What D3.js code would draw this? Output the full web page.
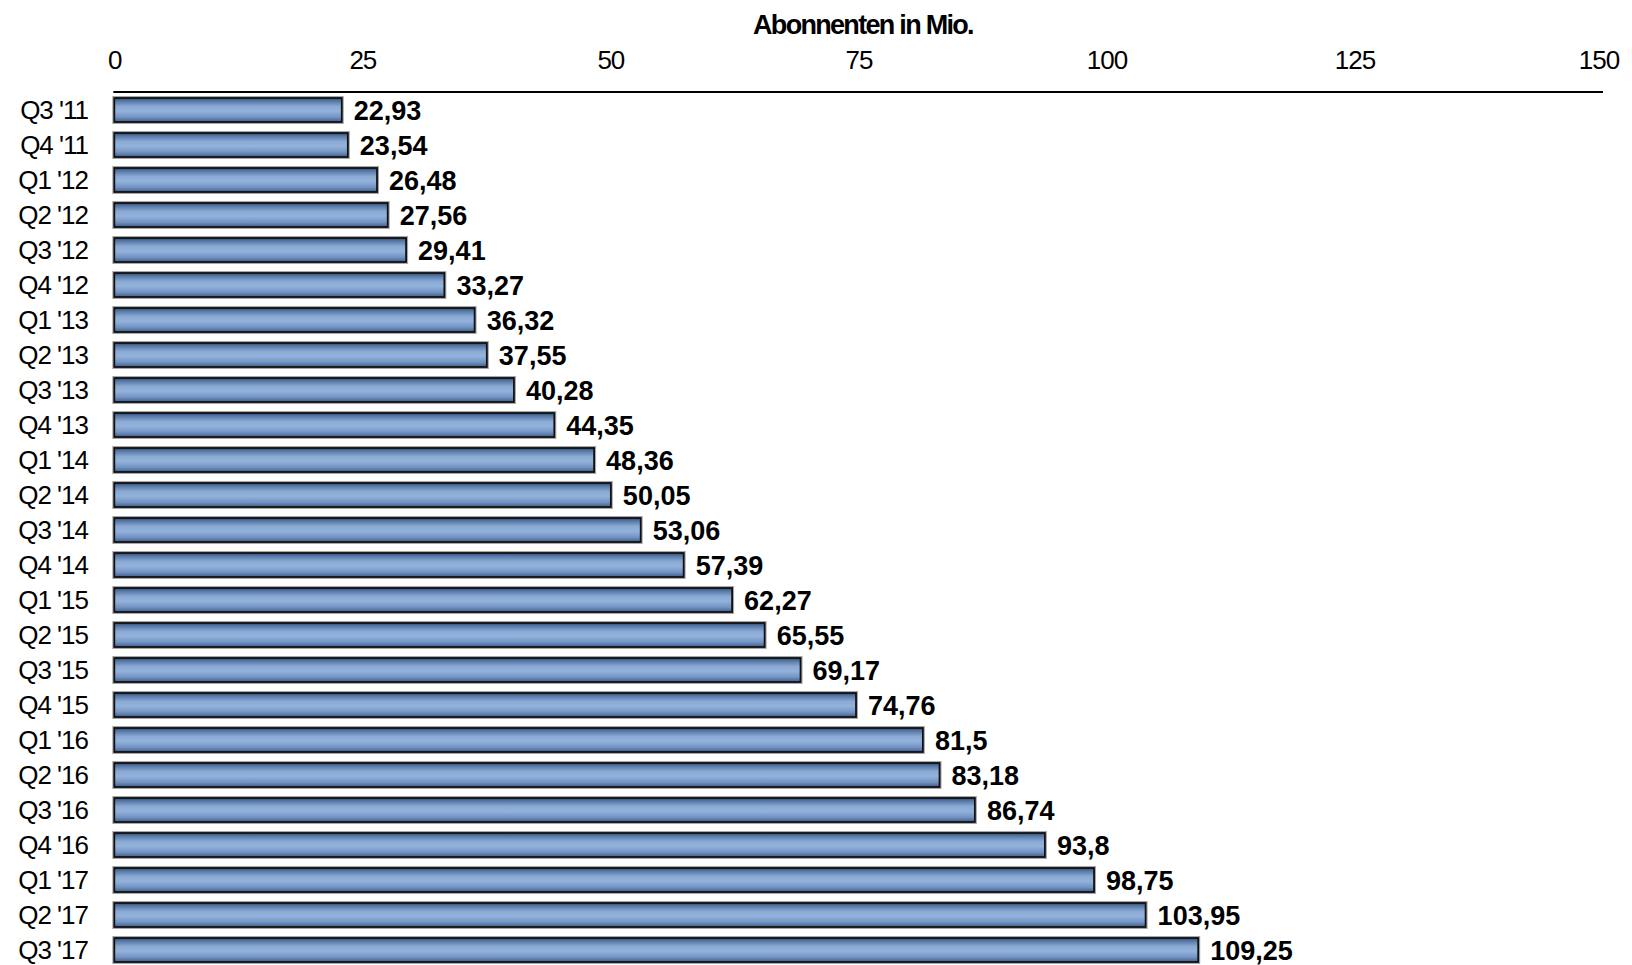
<!DOCTYPE html>
<html>
<head>
<meta charset="utf-8">
<script src="https://cdn.jsdelivr.net/npm/d3@7"></script>
<style>
  html, body { margin: 0; padding: 0; background: #fff; }
  svg { display: block; }
  text { font-family: "Liberation Sans", Arial, sans-serif; fill: #000; }
</style>
</head>
<body>
<svg id="chart" width="1632" height="965"></svg>
<script>
// Quarterly subscribers (millions)
const categories = ["Q3 '11", "Q4 '11", "Q1 '12", "Q2 '12", "Q3 '12", "Q4 '12",
  "Q1 '13", "Q2 '13", "Q3 '13", "Q4 '13", "Q1 '14", "Q2 '14", "Q3 '14", "Q4 '14",
  "Q1 '15", "Q2 '15", "Q3 '15", "Q4 '15", "Q1 '16", "Q2 '16", "Q3 '16", "Q4 '16",
  "Q1 '17", "Q2 '17", "Q3 '17"];
const subscribers = [22.93, 23.54, 26.48, 27.56, 29.41, 33.27, 36.32, 37.55, 40.28,
  44.35, 48.36, 50.05, 53.06, 57.39, 62.27, 65.55, 69.17, 74.76, 81.5, 83.18, 86.74,
  93.8, 98.75, 103.95, 109.25];
const tickValues = [0, 25, 50, 75, 100, 125, 150];
const axisTitle = "Abonnenten in Mio.";

const svg = d3.select("#chart");

const x = d3.scaleLinear().domain([0, 150]).range([114.3, 1602.5]);
const y = d3.scaleBand()
  .domain(categories)
  .range([92.5, 967.5])
  .paddingInner(0.314)
  .paddingOuter(0.157);

// Bar gradient: dark edges, light centre
const defs = svg.append("defs");
const grad = defs.append("linearGradient")
  .attr("id", "barGrad").attr("x1", 0).attr("y1", 0).attr("x2", 0).attr("y2", 1);
[[0, "#2c4a74"], [0.12, "#5677a6"], [0.35, "#8aa9d3"], [0.55, "#93b2dc"],
 [0.8, "#7393c2"], [1, "#3d5d8c"]].forEach(([o, c]) =>
  grad.append("stop").attr("offset", o).attr("stop-color", c));

// Title
svg.append("text")
  .attr("x", 863).attr("y", 34)
  .attr("text-anchor", "middle")
  .style("font-size", "27px").style("font-weight", "bold")
  .style("letter-spacing", "-1.7px")
  .text(axisTitle);

// Top axis
const axisG = svg.append("g").attr("transform", `translate(0, 92)`);
axisG.call(d3.axisTop(x).tickValues(tickValues).tickSize(0).tickPadding(0).tickFormat(d3.format("d")));
axisG.select(".domain").remove();
axisG.append("line")
  .attr("x1", x(0) - 1).attr("x2", 1603)
  .attr("y1", 0).attr("y2", 0)
  .attr("stroke", "#000").attr("stroke-width", 2);
axisG.selectAll(".tick text")
  .attr("y", -23.5).attr("dy", 0)
  .attr("fill", "#000")
  .style("font-family", "'Liberation Sans', Arial, sans-serif")
  .style("font-size", "26px")
  .style("letter-spacing", "-1px");
// keep the last label inside the line end
axisG.selectAll(".tick").filter(d => d === 150).select("text").attr("x", -4);

// Category labels
svg.append("g").selectAll("text")
  .data(categories)
  .join("text")
  .attr("x", 88)
  .attr("y", d => y(d) + y.bandwidth() / 2)
  .attr("dy", "0.36em")
  .attr("text-anchor", "end")
  .style("font-size", "26px")
  .style("letter-spacing", "-1px")
  .text(d => d);

// Bars
const rows = categories.map((c, i) => ({ c, v: subscribers[i] }));
const bars = svg.append("g");
bars.selectAll("rect.shadow")
  .data(rows)
  .join("rect")
  .attr("class", "shadow")
  .attr("x", x(0))
  .attr("y", d => y(d.c))
  .attr("width", d => x(d.v) - x(0))
  .attr("height", y.bandwidth())
  .attr("fill", "none")
  .attr("stroke", "#a8a8a8")
  .attr("stroke-width", 4);
bars.selectAll("rect.bar")
  .data(rows)
  .join("rect")
  .attr("class", "bar")
  .attr("x", x(0))
  .attr("y", d => y(d.c))
  .attr("width", d => x(d.v) - x(0))
  .attr("height", y.bandwidth())
  .attr("fill", "url(#barGrad)")
  .attr("stroke", "#111")
  .attr("stroke-width", 1.8);

// Value labels
svg.append("g").selectAll("text")
  .data(rows)
  .join("text")
  .attr("x", d => x(d.v) + 12)
  .attr("y", d => y(d.c) + y.bandwidth() / 2 + 0.5)
  .attr("dy", "0.36em")
  .style("font-size", "27px")
  .style("font-weight", "bold")
  .text(d => String(d.v).replace(".", ","));
</script>
</body>
</html>
